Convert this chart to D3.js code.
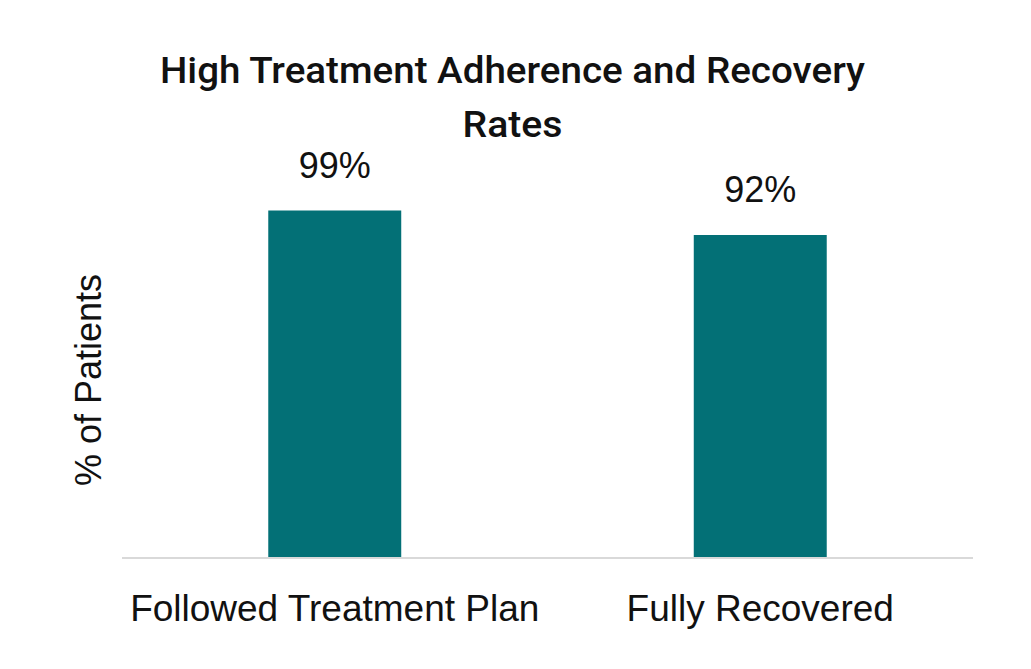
<!DOCTYPE html>
<html>
<head>
<meta charset="utf-8">
<script src="https://cdn.jsdelivr.net/npm/d3@7"></script>
<style>
  body { margin: 0; background: #fff; }
  text { font-family: "Liberation Sans", Arial, sans-serif; fill: #111; }
  .title { font-family: Roboto, "Liberation Sans", sans-serif; font-weight: 500; }
</style>
</head>
<body>
<svg id="chart"></svg>
<script>
const categories = ["Followed Treatment Plan", "Fully Recovered"];
const values = [99, 92];
const titleLines = ["High Treatment Adherence and Recovery", "Rates"];
const yLabel = "% of Patients";

const width = 1031, height = 669;
const margin = { top: 207, right: 58, bottom: 112, left: 122 };

const svg = d3.select("#chart").attr("width", width).attr("height", height);

// x: bands across the plot, narrow bars centered in each
const x = d3.scaleBand()
  .domain(categories)
  .range([margin.left, width - margin.right])
  .paddingInner(0.6875)
  .paddingOuter(0.34375);

const y = d3.scaleLinear()
  .domain([0, 100])
  .range([height - margin.bottom, margin.top]);

// title, two lines (condensed to match the original's narrow face)
svg.selectAll(".title")
  .data(titleLines)
  .join("text")
  .attr("class", "title")
  .attr("x", 512.5)
  .attr("y", (d, i) => 83 + i * 54)
  .attr("text-anchor", "middle")
  .attr("font-size", 37)
  .attr("textLength", (d, i) => (i === 0 ? 705 : 100))
  .attr("lengthAdjust", "spacingAndGlyphs")
  .text((d) => d);

// bars
svg.selectAll(".bar")
  .data(values)
  .join("rect")
  .attr("class", "bar")
  .attr("x", (d, i) => x(categories[i]))
  .attr("y", (d) => y(d))
  .attr("width", x.bandwidth())
  .attr("height", (d) => y(0) - y(d))
  .attr("fill", "#037076");

// value labels above bars
svg.selectAll(".val")
  .data(values)
  .join("text")
  .attr("class", "val")
  .attr("x", (d, i) => x(categories[i]) + x.bandwidth() / 2)
  .attr("y", (d) => y(d) - 33)
  .attr("text-anchor", "middle")
  .attr("font-size", 36)
  .text((d) => d + "%");

// baseline
svg.append("line")
  .attr("x1", margin.left)
  .attr("x2", width - margin.right)
  .attr("y1", y(0) + 1)
  .attr("y2", y(0) + 1)
  .attr("stroke", "#d9d9d9")
  .attr("stroke-width", 2);

// category labels (axis with no ticks/domain)
const xAxis = svg.append("g")
  .attr("transform", `translate(0,${y(0)})`)
  .call(d3.axisBottom(x).tickSize(0).tickPadding(0));
xAxis.select(".domain").remove();
xAxis.selectAll("text")
  .attr("font-size", 37)
  .attr("font-family", "Liberation Sans, Arial, sans-serif")
  .attr("fill", "#111")
  .attr("dy", null)
  .attr("y", 64);

// y axis label
svg.append("text")
  .attr("transform", "rotate(-90)")
  .attr("x", -380)
  .attr("y", 101)
  .attr("text-anchor", "middle")
  .attr("font-size", 36)
  .text(yLabel);
</script>
</body>
</html>
